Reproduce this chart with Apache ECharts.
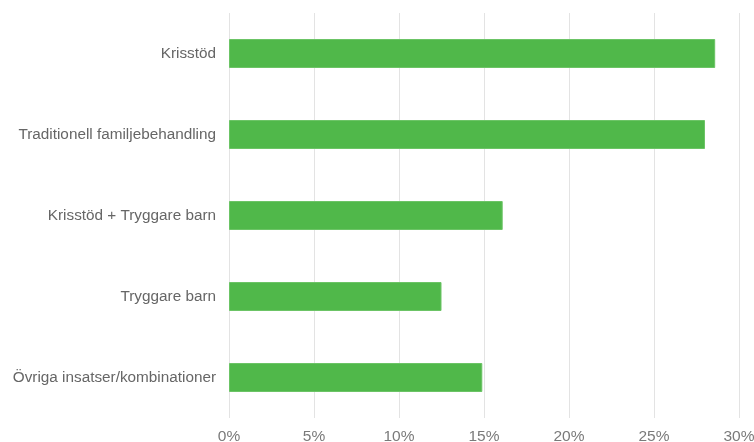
<!DOCTYPE html>
<html>
<head>
<meta charset="utf-8">
<script src="https://cdn.jsdelivr.net/npm/echarts@6/dist/echarts.min.js"></script>
<style>
  html, body { margin: 0; padding: 0; background: #ffffff; }
  #chart { width: 754px; height: 442px; }
</style>
</head>
<body>
<div id="chart"></div>
<script>
// Insatstyper och andel (%)
const categories = [
  'Krisstöd',
  'Traditionell familjebehandling',
  'Krisstöd + Tryggare barn',
  'Tryggare barn',
  'Övriga insatser/kombinationer'
];
const shares = [28.6, 28.0, 16.1, 12.5, 14.9];
const xTicks = { min: 0, max: 30, step: 5 };

const chart = echarts.init(document.getElementById('chart'), null, { renderer: 'canvas' });
chart.setOption({
  animation: false,
  grid: {
    left: 229, right: 15, top: 13, bottom: 24,
    containLabel: false,
    outerBoundsMode: 'none'
  },
  xAxis: {
    type: 'value',
    min: xTicks.min,
    max: xTicks.max,
    interval: xTicks.step,
    axisLine: { show: false },
    axisTick: { show: false },
    splitLine: { show: true, lineStyle: { color: '#e3e3e3', width: 1 } },
    axisLabel: {
      formatter: '{value}%',
      color: '#7a7a7a',
      fontFamily: 'Liberation Sans, Arial, sans-serif',
      fontSize: 15.5,
      margin: 11,
      hideOverlap: false
    }
  },
  yAxis: {
    type: 'category',
    data: categories,
    inverse: true,
    axisLine: { show: false },
    axisTick: { show: false },
    splitLine: { show: false },
    axisLabel: {
      color: '#666666',
      fontFamily: 'Liberation Sans, Arial, sans-serif',
      fontSize: 15.3,
      margin: 13
    }
  },
  series: [{
    type: 'bar',
    data: shares,
    barWidth: 29,
    itemStyle: { color: '#50b84a', borderColor: '#6cc466', borderWidth: 1 }
  }]
});
</script>
</body>
</html>
